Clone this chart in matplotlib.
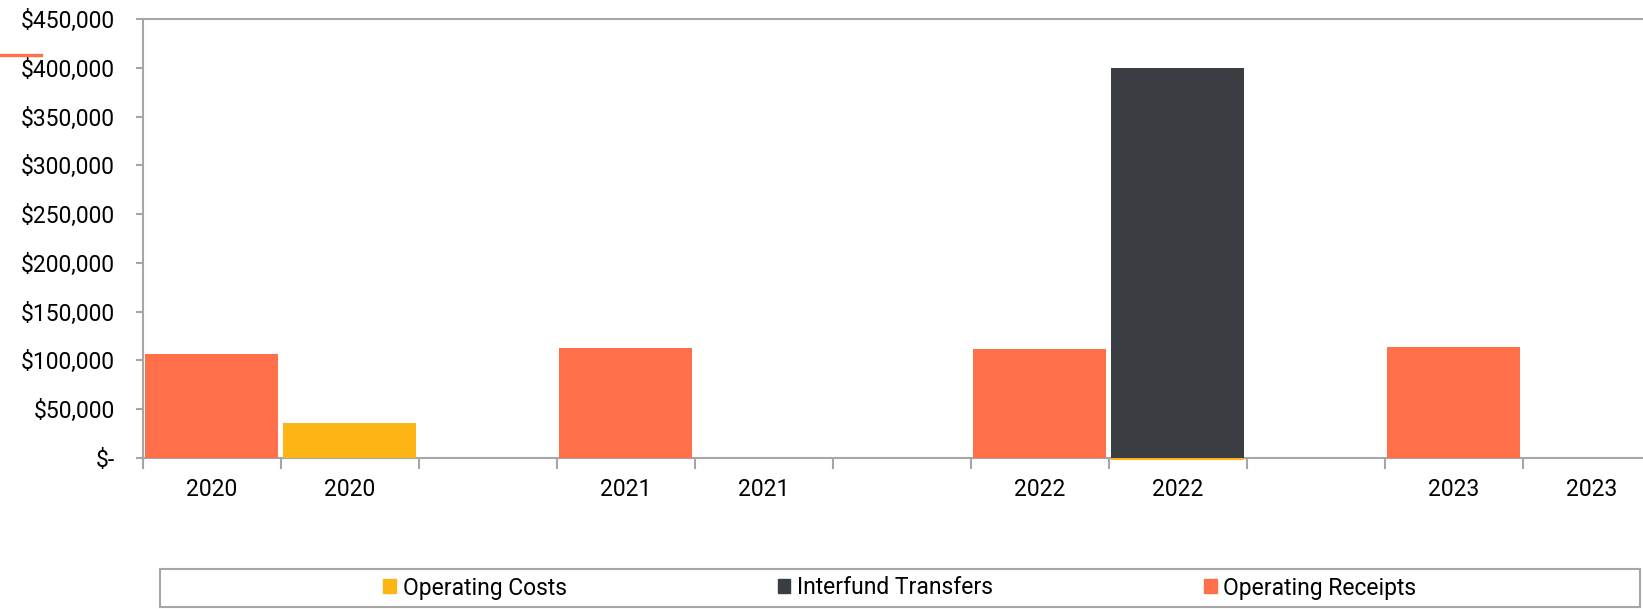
import numpy as np
import matplotlib.pyplot as plt
from matplotlib.patches import Rectangle, Patch
from matplotlib.lines import Line2D
from matplotlib.ticker import FuncFormatter

plt.rcParams['font.family'] = ['Roboto', 'DejaVu Sans']

# Данные (None = нет столбца)
years = ["2020", "2020", "", "2021", "2021", "", "2022", "2022", "", "2023", "2023"]
operating_receipts = [106500, None, None, 112900, None, None, 111800, None, None, 114000, None]
operating_costs = [None, 35500, None, None, None, None, None, -2200, None, None, -400]
interfund_transfers = [None, None, None, None, None, None, None, 399500, None, None, None]

c_costs = '#FDB515'
c_transfers = '#3A3E43'
c_receipts = '#FF704A'
grey = '#A6A6A6'
fs = 16.5

fig = plt.figure(figsize=(16.43, 6.09), dpi=100)
ax = fig.add_axes([142.5 / 1643, 0.2432, 1518 / 1643, 0.7256])

x = np.arange(len(years))
for vals, color in [(operating_receipts, c_receipts),
                    (operating_costs, c_costs),
                    (interfund_transfers, c_transfers)]:
    v = np.array(vals, dtype=float)
    m = ~np.isnan(v)
    ax.bar(x[m], v[m], width=0.965, color=color, clip_on=False, zorder=2)

ax.set_xlim(-0.5, len(years) - 0.5)
ax.set_ylim(-3000, 450000)
ax.set_yticks(np.arange(0, 450001, 50000))
ax.yaxis.set_major_formatter(FuncFormatter(lambda v, p: '$-' if v == 0 else f'${v:,.0f}'))

# границы категорий и подписи по центру
ax.set_xticks(np.arange(-0.5, len(years)))
ax.set_xticklabels([])
ax.set_xticks(x, minor=True)
ax.set_xticklabels(years, minor=True)
ax.tick_params(axis='x', which='major', length=8, width=1.5, color=grey)
ax.tick_params(axis='x', which='minor', length=0, pad=14.5, labelsize=fs)
ax.tick_params(axis='y', length=5, width=1.5, color=grey, pad=15, labelsize=fs)

ax.spines['bottom'].set_position(('data', 0))
for s in ['left', 'top', 'bottom']:
    ax.spines[s].set_color(grey)
    ax.spines[s].set_linewidth(1.5)
ax.spines['right'].set_visible(False)
ax.spines['bottom'].set_zorder(1)

handles = [Patch(color=c_costs, label='Operating Costs'),
           Patch(color=c_transfers, label='Interfund Transfers'),
           Patch(color=c_receipts, label='Operating Receipts')]
fig.legend(handles=handles, loc='center', bbox_to_anchor=(900 / 1643, 1 - 588 / 609),
           ncol=3, frameon=False, fontsize=fs, columnspacing=9.2,
           handlelength=0.55, handleheight=0.55, handletextpad=0.3)
fig.add_artist(Rectangle((160 / 1643, 1 - 607 / 609), 1480 / 1643, 38 / 609,
                         transform=fig.transFigure, fill=False, edgecolor=grey, lw=1.5))

# оранжевая черточка слева вверху
fig.add_artist(Line2D([0, 41 / 1643], [1 - 55 / 609, 1 - 55 / 609],
                      transform=fig.transFigure, color=c_receipts, lw=2.4))

fig.savefig('out.png', dpi=100)
